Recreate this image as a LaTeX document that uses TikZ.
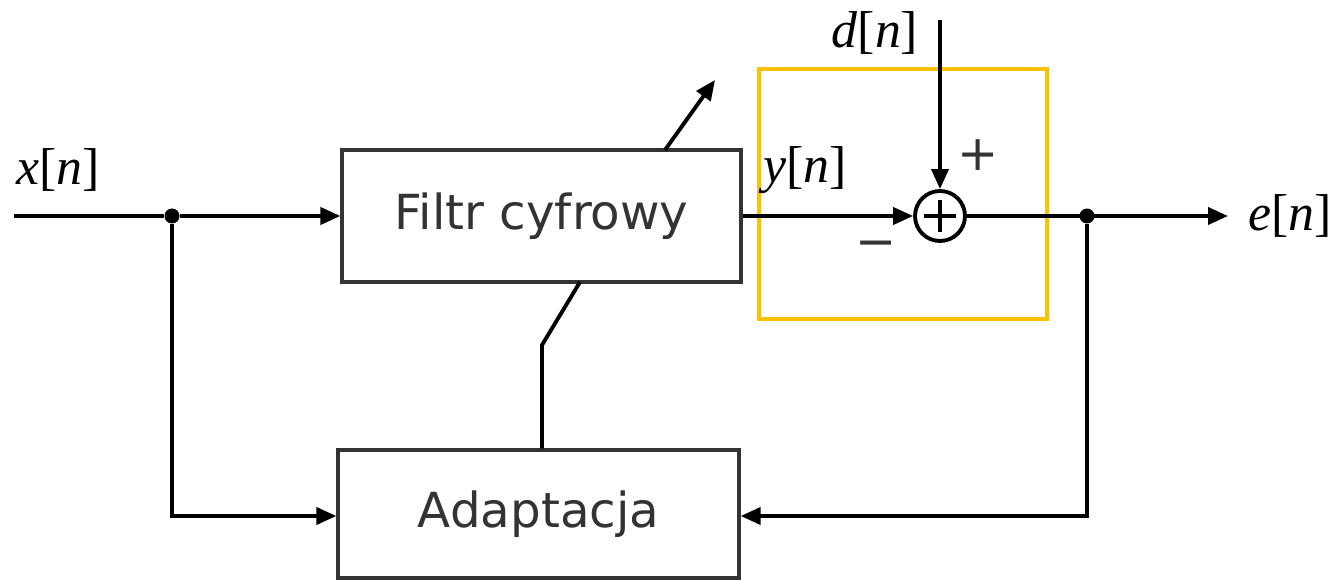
\documentclass[tikz,border=0pt]{standalone}
\usepackage{fontspec}
\setmainfont{Liberation Serif}
\newfontfamily\blockfont{DejaVu Sans}
\usetikzlibrary{arrows.meta}
\definecolor{ramka}{RGB}{255,192,0}
\definecolor{ciemny}{RGB}{51,51,51}
\newcommand{\sig}[1]{\textit{#1}[\textit{n}]}
\tikzset{
  blok/.style={draw=ciemny,line width=1.9pt,text=ciemny,font=\blockfont\fontsize{27.5}{30}\selectfont},
  sygnal/.style={font=\fontsize{29.5}{33}\selectfont,inner sep=0pt},
  strz/.style={line width=2.2pt,-{Triangle[length=0.4cm,width=0.34cm]}},
  linia/.style={line width=2.2pt},
  kropka/.style={circle,fill,inner sep=0pt,minimum size=0.3cm}
}
\begin{document}
\begin{tikzpicture}[x=0.02cm,y=-0.02cm]
   \useasboundingbox (0,0) rectangle (1335,580);
   % bloki
   \node[blok,minimum width=7.98cm,minimum height=2.64cm] (filtr) at (541.5,216) {Filtr cyfrowy};
   \node[blok,minimum width=8.02cm,minimum height=2.56cm] (adapt) at (538.5,514) {Adaptacja};
   \draw[ramka,line width=2.2pt] (759,69) rectangle (1047,319);
   \node[draw,circle,line width=2.2pt,minimum size=1cm,inner sep=0pt] (suma) at (940,216) {};
   \draw[line width=2pt] ([xshift=-0.32cm]suma.center) -- ([xshift=0.32cm]suma.center)
        ([yshift=-0.32cm]suma.center) -- ([yshift=0.32cm]suma.center);
   % punkty
   \coordinate (we) at (14,216);
   \coordinate (wy) at (1228,216);
   \coordinate (dg) at (940,20);
   \node[kropka] (k1) at (172,216) {};
   \node[kropka] (k2) at (1087,216) {};
   \coordinate (k1d) at (172,516);
   \coordinate (k2d) at (1087,516);
   \coordinate (z1) at (542,345);
   \coordinate (z2) at (580,282);
   \coordinate (z3) at (665,150);
   \coordinate (z4) at (715,80);
   % polaczenia
   \draw[linia] (we) -- (k1);
   \draw[strz] (k1) -- (filtr.west);
   \draw[strz] (filtr.east) -- (suma.west);
   \draw[strz] (dg) -- (suma.north);
   \draw[strz] (suma.east) -- (wy);
   \draw[strz] (k1) -- (k1d) -- (adapt.west |- k1d);
   \draw[strz] (k2) -- (k2d) -- (adapt.east |- k2d);
   \draw[linia,line join=miter] (adapt.north -| z1) -- (z1) -- (z2);
   \draw[strz] (z3) -- (z4);
   % etykiety
   \foreach \p/\s/\n in {58/170/x, 805/170/y, 875/33/d, 1290/216/e}
     \node[sygnal] (sig-\n) at (\p,\s) {\sig{\n}};
   \node[font=\blockfont\fontsize{28}{32}\selectfont,text=ciemny] (plus) at (978,155) {+};
   \node[font=\blockfont\fontsize{28}{32}\selectfont,text=ciemny] (minus) at (876,250) {\char"2212};
\end{tikzpicture}
\end{document}
